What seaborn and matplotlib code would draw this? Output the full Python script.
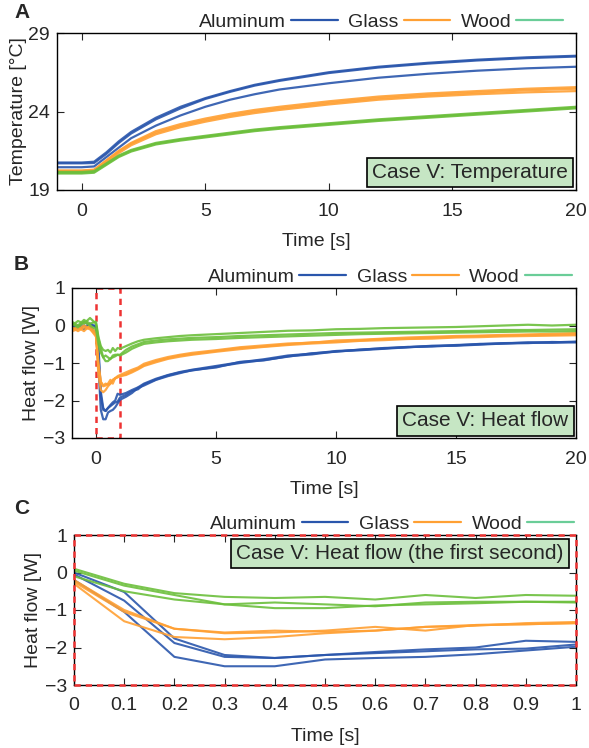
import numpy as np
import pandas as pd
from matplotlib import pyplot as plt
from matplotlib.lines import Line2D
from matplotlib.patches import Rectangle
import seaborn as sns

# ---- panel A: temperature, 3 trials per material ----
t_temp = [-1, 0, 0.5, 1, 1.5, 2, 3, 4, 5, 6, 7, 8, 10, 12, 14, 16, 18, 20]
temp_alu = [
    [20.75, 20.75, 20.8, 21.4, 22.1, 22.7, 23.6, 24.3, 24.85, 25.3, 25.7, 26.0, 26.5, 26.85, 27.1, 27.3, 27.45, 27.55],
    [20.7, 20.7, 20.72, 21.3, 22.0, 22.6, 23.5, 24.2, 24.8, 25.25, 25.65, 25.95, 26.45, 26.8, 27.05, 27.25, 27.4, 27.5],
    [20.45, 20.45, 20.5, 21.1, 21.7, 22.3, 23.1, 23.75, 24.3, 24.75, 25.1, 25.4, 25.8, 26.15, 26.4, 26.6, 26.75, 26.85],
]
temp_glass = [
    [20.25, 20.25, 20.3, 20.9, 21.5, 22.0, 22.75, 23.2, 23.55, 23.85, 24.1, 24.3, 24.65, 24.95, 25.15, 25.3, 25.45, 25.55],
    [20.2, 20.2, 20.25, 20.85, 21.45, 21.95, 22.65, 23.1, 23.45, 23.75, 24.0, 24.2, 24.55, 24.85, 25.05, 25.2, 25.35, 25.45],
    [20.15, 20.15, 20.2, 20.75, 21.35, 21.85, 22.55, 23.0, 23.35, 23.65, 23.9, 24.1, 24.45, 24.75, 24.95, 25.1, 25.22, 25.3],
]
temp_wood = [
    [20.15, 20.15, 20.2, 20.7, 21.2, 21.55, 22.0, 22.25, 22.45, 22.65, 22.85, 23.0, 23.25, 23.5, 23.7, 23.9, 24.1, 24.3],
    [20.1, 20.1, 20.15, 20.65, 21.15, 21.5, 21.95, 22.2, 22.4, 22.6, 22.8, 22.95, 23.2, 23.45, 23.65, 23.85, 24.05, 24.25],
    [20.05, 20.05, 20.1, 20.6, 21.1, 21.45, 21.9, 22.15, 22.35, 22.55, 22.75, 22.9, 23.15, 23.4, 23.6, 23.8, 24.0, 24.2],
]

# ---- heat flow: before contact, first second (panel C), after ----
t_pre = [-1, -0.75, -0.5, -0.25]
t_first = [0, 0.1, 0.2, 0.3, 0.4, 0.5, 0.6, 0.7, 0.8, 0.9, 1.0]
t_late = [1.25, 1.5, 1.75, 2, 2.5, 3, 3.5, 4, 5, 6, 7, 8, 9, 10, 11, 12, 13, 14, 15, 16, 17, 18, 19, 20]

pre_alu = [[0.05, -0.05, 0.1, 0.0], [-0.05, 0.0, -0.1, 0.05], [0.0, -0.08, 0.0, -0.05]]
pre_glass = [[-0.1, -0.05, -0.15, 0.0], [-0.05, -0.15, -0.05, -0.1], [-0.15, -0.1, 0.0, -0.08]]
pre_wood = [[0.1, 0.0, 0.15, 0.05], [0.0, 0.12, 0.05, 0.2], [0.05, -0.05, 0.1, 0.0]]

first_alu = [
    [0.0, -0.52, -1.76, -2.2, -2.28, -2.2, -2.12, -2.05, -2.0, -1.82, -1.85],
    [-0.05, -0.75, -1.88, -2.25, -2.28, -2.2, -2.15, -2.1, -2.05, -2.03, -1.92],
    [-0.2, -1.05, -2.25, -2.5, -2.5, -2.32, -2.28, -2.25, -2.18, -2.08, -1.98],
]
first_glass = [
    [-0.2, -1.0, -1.5, -1.6, -1.55, -1.58, -1.55, -1.45, -1.42, -1.35, -1.32],
    [-0.25, -1.05, -1.5, -1.62, -1.6, -1.55, -1.45, -1.55, -1.4, -1.38, -1.35],
    [-0.3, -1.3, -1.72, -1.78, -1.72, -1.62, -1.55, -1.45, -1.4, -1.38, -1.35],
]
first_wood = [
    [0.1, -0.3, -0.55, -0.65, -0.68, -0.65, -0.72, -0.6, -0.68, -0.6, -0.62],
    [0.05, -0.35, -0.6, -0.85, -0.95, -0.95, -0.88, -0.85, -0.82, -0.78, -0.78],
    [-0.1, -0.5, -0.72, -0.85, -0.8, -0.85, -0.9, -0.8, -0.78, -0.78, -0.8],
]

late_alu = [
    [-1.8, -1.72, -1.65, -1.55, -1.42, -1.32, -1.24, -1.18, -1.08, -0.98, -0.9, -0.8, -0.75, -0.68, -0.65, -0.6, -0.58, -0.55, -0.52, -0.5, -0.47, -0.46, -0.45, -0.43],
    [-1.85, -1.75, -1.7, -1.57, -1.44, -1.33, -1.25, -1.2, -1.1, -1.0, -0.92, -0.83, -0.74, -0.7, -0.64, -0.61, -0.57, -0.56, -0.53, -0.49, -0.48, -0.45, -0.46, -0.44],
    [-1.9, -1.8, -1.66, -1.6, -1.45, -1.35, -1.27, -1.19, -1.12, -0.97, -0.93, -0.82, -0.77, -0.69, -0.66, -0.62, -0.58, -0.54, -0.54, -0.51, -0.48, -0.47, -0.44, -0.45],
]
late_glass = [
    [-1.25, -1.18, -1.12, -1.02, -0.92, -0.84, -0.78, -0.73, -0.66, -0.58, -0.53, -0.48, -0.46, -0.4, -0.38, -0.35, -0.32, -0.3, -0.28, -0.27, -0.25, -0.24, -0.22, -0.2],
    [-1.3, -1.22, -1.15, -1.06, -0.95, -0.87, -0.8, -0.76, -0.68, -0.6, -0.56, -0.5, -0.45, -0.43, -0.4, -0.36, -0.35, -0.32, -0.3, -0.28, -0.27, -0.25, -0.25, -0.23],
    [-1.32, -1.25, -1.17, -1.08, -0.98, -0.89, -0.83, -0.78, -0.7, -0.63, -0.57, -0.52, -0.48, -0.45, -0.41, -0.39, -0.36, -0.35, -0.32, -0.31, -0.29, -0.28, -0.27, -0.26],
]
late_wood = [
    [-0.55, -0.48, -0.42, -0.38, -0.34, -0.31, -0.28, -0.26, -0.23, -0.2, -0.17, -0.14, -0.13, -0.1, -0.09, -0.07, -0.06, -0.05, -0.04, -0.02, 0.0, 0.02, 0.0, 0.02],
    [-0.65, -0.56, -0.5, -0.44, -0.4, -0.37, -0.35, -0.33, -0.31, -0.28, -0.26, -0.24, -0.22, -0.2, -0.19, -0.18, -0.17, -0.16, -0.15, -0.14, -0.12, -0.12, -0.11, -0.1],
    [-0.72, -0.62, -0.55, -0.49, -0.45, -0.42, -0.4, -0.38, -0.36, -0.33, -0.31, -0.29, -0.27, -0.25, -0.23, -0.22, -0.21, -0.2, -0.19, -0.18, -0.17, -0.16, -0.16, -0.15],
]

materials = ["Aluminum", "Glass", "Wood"]
line_colors = ["#2a56ac", "#ffa033", "#6cbf3c"]
legend_colors = ["#2a56ac", "#ffa033", "#6acd98"]


def to_long(t, series_by_material):
    rows = []
    for mat, series in zip(materials, series_by_material):
        for k, vals in enumerate(series):
            for ti, v in zip(t, vals):
                rows.append((mat, k, ti, v))
    return pd.DataFrame(rows, columns=["material", "trial", "t", "v"])


df_temp = to_long(t_temp, [temp_alu, temp_glass, temp_wood])
df_first = to_long(t_first, [first_alu, first_glass, first_wood])
t_flow = t_pre + t_first + t_late
flow_all = []
for pre, first, late in [(pre_alu, first_alu, late_alu), (pre_glass, first_glass, late_glass),
                         (pre_wood, first_wood, late_wood)]:
    flow_all.append([p + f + l for p, f, l in zip(pre, first, late)])
df_flow = to_long(t_flow, flow_all)

sns.set_style("ticks")
plt.rcParams['font.family'] = ['Liberation Sans', 'DejaVu Sans']
plt.rcParams['font.size'] = 14

fig = plt.figure(figsize=(5.89, 7.48), dpi=100)
W, H = 589, 748


def make_ax(left, top, right, bottom):
    return fig.add_axes([left / W, 1 - bottom / H, (right - left) / W, (bottom - top) / H])


axA = make_ax(57, 33, 576, 190)
axB = make_ax(72, 288, 576, 438)
axC = make_ax(74, 535, 576, 685)

palette = dict(zip(materials, line_colors))
for ax, df, lw in [(axA, df_temp, 1.6), (axB, df_flow, 1.6), (axC, df_first, 1.5)]:
    sns.lineplot(data=df, x="t", y="v", hue="material", units="trial", estimator=None,
                 palette=palette, lw=lw, ax=ax, legend=False, alpha=0.9)

axA.set_xlim(-1, 20)
axA.set_ylim(19, 29)
axA.set_yticks([19, 24, 29])
axA.set_xticks([0, 5, 10, 15, 20])
axA.set_ylabel("Temperature [°C]", labelpad=1)

axB.set_xlim(-1, 20)
axB.set_ylim(-3, 1)
axB.set_yticks([-3, -2, -1, 0, 1])
axB.set_xticks([0, 5, 10, 15, 20])
axB.set_ylabel("Heat flow [W]", labelpad=2)

axC.set_xlim(0, 1)
axC.set_ylim(-3, 1)
axC.set_yticks([-3, -2, -1, 0, 1])
axC.set_xticks(t_first)
axC.set_xticklabels(["0"] + ["%.1f" % v for v in t_first[1:-1]] + ["1"])
axC.set_ylabel("Heat flow [W]", labelpad=2)

# legend right edges in axes fraction
legend_right = {axA: 0.979, axB: 0.995, axC: 1.0}
for ax in (axA, axB, axC):
    ax.set_xlabel("Time [s]", labelpad=10)
    ax.tick_params(direction="in", top=True, right=True, length=5, width=0.8)
    ax.tick_params(axis="x", pad=9)
    ax.tick_params(axis="y", pad=5)
    for s in ax.spines.values():
        s.set_linewidth(1.0)
        s.set_color("black")
    handles = [Line2D([], [], color=c, lw=1.6) for c in legend_colors]
    ax.legend(handles, materials, ncol=3, markerfirst=False, frameon=False,
              loc="lower right", bbox_to_anchor=(legend_right[ax], 1.0), borderaxespad=0.0,
              borderpad=0.1, handlelength=2.4, handletextpad=0.25, columnspacing=0.55)

# red dashed box marking the first second
red = "#ee3333"
axB.axvspan(t_first[0], t_first[-1], fill=False, edgecolor=red, ls=(0, (2.5, 2)), lw=1.8)
axC.add_patch(Rectangle((0, 0), 1, 1, transform=axC.transAxes, fill=False, edgecolor=red,
                        ls=(0, (2.5, 2)), lw=1.8, clip_on=False, zorder=5))

box = dict(boxstyle="square,pad=0.25", facecolor="#c6e6c4", edgecolor="black", lw=1.2)
axA.text(0.985, 0.05, "Case V: Temperature", transform=axA.transAxes, ha="right", va="bottom",
         bbox=box, fontsize=15)
axB.text(0.985, 0.05, "Case V: Heat flow", transform=axB.transAxes, ha="right", va="bottom",
         bbox=box, fontsize=15)
axC.text(0.975, 0.94, "Case V: Heat flow (the first second)", transform=axC.transAxes,
         ha="right", va="top", bbox=box, fontsize=15)

for lab, y in [("A", 12), ("B", 265), ("C", 508)]:
    fig.text(14 / W, 1 - y / H, lab, fontsize=15, fontweight="bold", ha="left", va="center")

fig.savefig("out.png", dpi=100)
